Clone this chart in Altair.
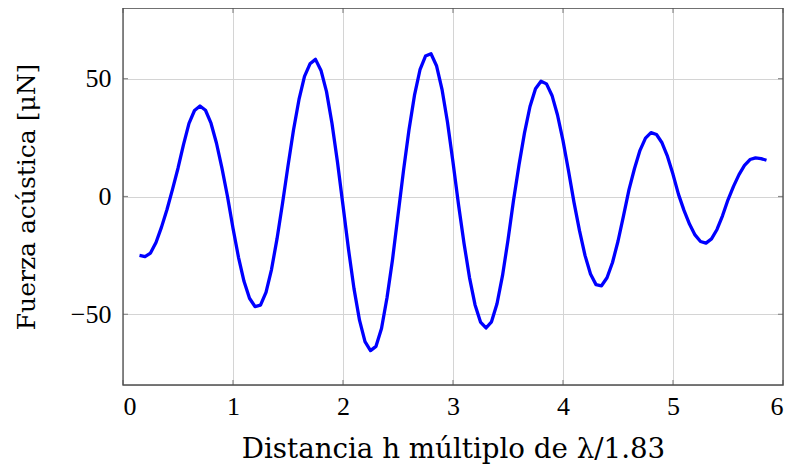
import altair as alt
import pandas as pd

x_vals = [
    0.15, 0.20, 0.25, 0.30, 0.35, 0.40, 0.45, 0.50, 0.55, 0.60,
    0.65, 0.70, 0.75, 0.80, 0.85, 0.90, 0.95, 1.00, 1.05, 1.10,
    1.15, 1.20, 1.25, 1.30, 1.35, 1.40, 1.45, 1.50, 1.55, 1.60,
    1.65, 1.70, 1.75, 1.80, 1.85, 1.90, 1.95, 2.00, 2.05, 2.10,
    2.15, 2.20, 2.25, 2.30, 2.35, 2.40, 2.45, 2.50, 2.55, 2.60,
    2.65, 2.70, 2.75, 2.80, 2.85, 2.90, 2.95, 3.00, 3.05, 3.10,
    3.15, 3.20, 3.25, 3.30, 3.35, 3.40, 3.45, 3.50, 3.55, 3.60,
    3.65, 3.70, 3.75, 3.80, 3.85, 3.90, 3.95, 4.00, 4.05, 4.10,
    4.15, 4.20, 4.25, 4.30, 4.35, 4.40, 4.45, 4.50, 4.55, 4.60,
    4.65, 4.70, 4.75, 4.80, 4.85, 4.90, 4.95, 5.00, 5.05, 5.10,
    5.15, 5.20, 5.25, 5.30, 5.35, 5.40, 5.45, 5.50, 5.55, 5.60,
    5.65, 5.70, 5.75, 5.80, 5.85,
]

force_vals = [
    -25.0, -25.5, -24.0, -19.5, -13.0, -5.5, 3.0, 12.0, 22.0, 31.0,
    36.5, 38.4, 36.6, 31.1, 22.6, 11.9, 0.0, -13.5, -25.8, -36.0,
    -43.2, -46.7, -46.1, -40.7, -31.0, -18.0, -3.0, 13.0, 28.2, 41.2,
    51.0, 56.3, 58.2, 53.5, 44.5, 31.0, 14.5, -3.8, -22.4, -39.1,
    -52.5, -61.6, -65.4, -63.6, -56.0, -43.0, -26.8, -7.9, 11.0, 28.3,
    43.0, 53.8, 59.6, 60.6, 55.5, 45.5, 31.5, 14.5, -3.4, -19.8,
    -34.4, -45.9, -53.3, -55.8, -53.2, -45.5, -33.6, -18.5, -1.7, 13.4,
    27.0, 38.2, 45.7, 48.9, 47.8, 42.9, 34.6, 23.7, 10.9, -2.5,
    -14.5, -25.0, -32.9, -37.4, -37.9, -34.5, -28.0, -19.0, -8.2, 2.9,
    11.9, 19.6, 24.8, 27.1, 26.3, 22.8, 17.0, 9.4, 0.9, -5.9,
    -11.7, -16.3, -19.1, -19.8, -18.0, -14.0, -8.2, -1.4, 4.3, 9.3,
    13.2, 15.7, 16.4, 16.1, 15.4,
]

x_ticks = [0, 1, 2, 3, 4, 5, 6]
y_ticks = [-50, 0, 50]

W, H = 660, 377
LABEL_FONT = "Liberation Serif"
TITLE_FONT = "DejaVu Serif"

df = pd.DataFrame({"x": x_vals, "y": force_vals})
xt = pd.DataFrame({"x": x_ticks})
yt = pd.DataFrame({"y": y_ticks})
frame_df = pd.DataFrame({"k": [0]})

xscale = alt.Scale(domain=[0, 6], nice=False, zero=False)
yscale = alt.Scale(domain=[-80, 80], nice=False, zero=False)

line = alt.Chart(df).mark_line(color="#0000ff", strokeWidth=3.3, strokeJoin="round").encode(
    x=alt.X("x:Q", scale=xscale,
            axis=alt.Axis(values=x_ticks, format="d", title="Distancia h múltiplo de λ/1.83",
                          grid=True, gridColor="#d4d4d4", gridWidth=1, ticks=False, domain=False,
                          labelFont=LABEL_FONT, labelFontSize=26, labelColor="#000", labelPadding=8,
                          titleFont=TITLE_FONT, titleFontSize=27.7, titleFontWeight="normal",
                          titleColor="#000", titlePadding=16)),
    y=alt.Y("y:Q", scale=yscale,
            axis=alt.Axis(values=y_ticks, format="d", title="Fuerza acústica [μN]",
                          grid=True, gridColor="#d4d4d4", gridWidth=1, ticks=False, domain=False,
                          labelFont=LABEL_FONT, labelFontSize=26, labelColor="#000", labelPadding=12,
                          titleFont=TITLE_FONT, titleFontSize=25, titleFontWeight="normal",
                          titleColor="#000", titlePadding=31)),
)

tick_color = "#8a8a8a"
ytick_l = alt.Chart(yt).mark_rule(color=tick_color, strokeWidth=1.2).encode(
    y=alt.Y("y:Q", scale=yscale), x=alt.value(0), x2=alt.value(5))
ytick_r = alt.Chart(yt).mark_rule(color=tick_color, strokeWidth=1.2).encode(
    y=alt.Y("y:Q", scale=yscale), x=alt.value(W - 5), x2=alt.value(W))
xtick_b = alt.Chart(xt).mark_rule(color=tick_color, strokeWidth=1.2).encode(
    x=alt.X("x:Q", scale=xscale), y=alt.value(H - 5), y2=alt.value(H))
xtick_t = alt.Chart(xt).mark_rule(color=tick_color, strokeWidth=1.2).encode(
    x=alt.X("x:Q", scale=xscale), y=alt.value(0), y2=alt.value(5))

frame = alt.Chart(frame_df).mark_rect(fill=None, fillOpacity=0, stroke="#4d4d4d", strokeWidth=1.3).encode(
    x=alt.value(0), x2=alt.value(W), y=alt.value(0), y2=alt.value(H))

chart = alt.layer(ytick_l, ytick_r, xtick_b, xtick_t, line, frame).properties(
    width=W, height=H,
    autosize=alt.AutoSizeParams(type="none"),
    padding={"left": 115, "top": 0, "right": 3, "bottom": 85},
).configure_view(stroke=None).configure(background="white")

chart.save("out.html", embed_options={"renderer": "svg", "actions": False})
